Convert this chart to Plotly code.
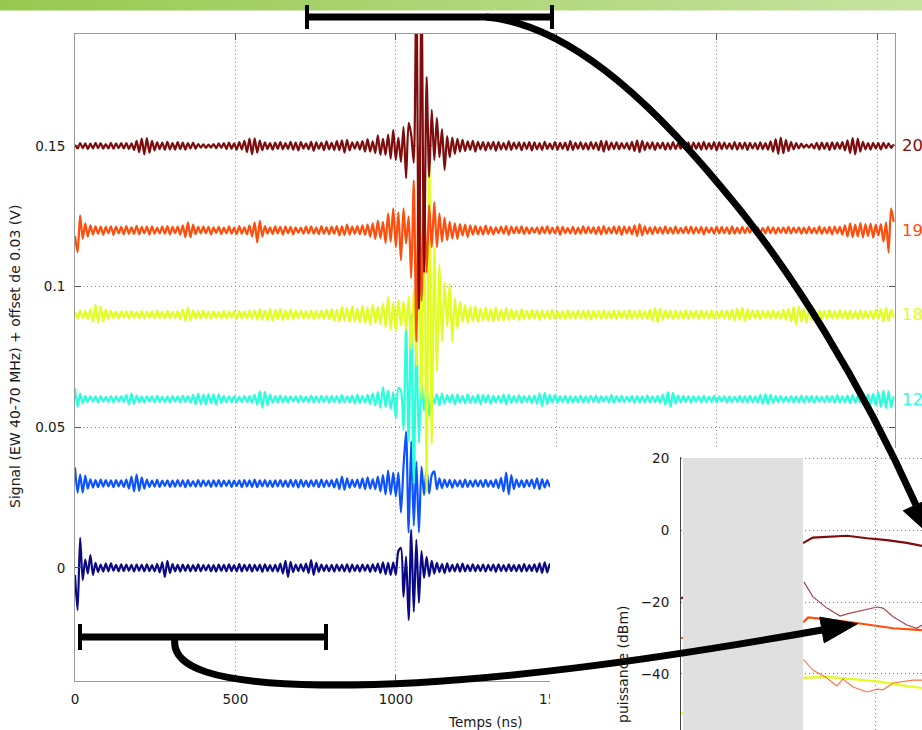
import plotly.graph_objects as go

W, H = 922, 730
FONT = "DejaVu Sans"
SAMPLE_NS = 8  # sampling interval of the recorded traces (ns)

# ---------------------------------------------------------------- traces
# vertical offsets (V) and colours, bottom trace first
offsets_v = [0.00, 0.03, 0.06, 0.09, 0.12, 0.15]
trace_colors = ["#0b0a86", "#0c52ff", "#2affda", "#e0ff1e", "#ff4d0c", "#7e0c0c"]
end_labels = ["", "", "12", "18", "19", "20"]

# filtered signals, units of 0.1 mV, one sample every SAMPLE_NS
sig_navy = [
    -25, -150, 107, -43, 30, -20, 46, -25, 18, -14, 12, -13, 15, -12, 16, -10, 11, -12, 13, -11,
    12, -10, 11, -13, 12, -10, 11, -12, 13, -11, 10, -12, 14, -16, 20, -32, 25, -18, 14, -12,
    11, -13, 12, -10, 11, -12, 10, -11, 13, -12, 10, -9, 11, -12, 10, -13, 12, -10, 11, -12,
    13, -11, 10, -12, 14, -12, 11, -10, 12, -13, 11, -10, 12, -14, 13, -11, 10, -12, 11, -13,
    15, -20, 25, -32, 22, -15, 12, -11, 13, -12, 15, -18, 28, -25, 18, -14, 12, -11, 10, -12,
    11, -13, 12, -10, 11, -12, 13, -14, 12, -11, 10, -13, 12, -10, 11, -14, 13, -12, 15, -18,
    20, -22, 18, -25, 20, -25, 60, 71, -103, 40, -185, 135, -156, 100, -124, 60, -36, 39, -30, 25,
    -20, 18, -15, 14, -18, 16, -13, 11, -12, 14, -13, 15, -12, 10, -11, 13, -12, 10, -11, 12,
    -13, 11, -10, 12, -14, 13, -11, 10, -12, 13, -11, 10, -12, 11, -13, 14, -12, 10, -11, 13,
    -14, 16, -18, 20, -16, 14, -12, 11, -13, 12, -10, 11, -12, 13, -11, 10, -12, 11, -10, 12,
]
sig_blue = [
    57, -32, 32, -32, 28, -18, 15, -14, 12, -13, 14, -11, 12, -10, 11, -13, 12, -10, 11, -12,
    14, -18, 25, -28, 32, -26, 22, -18, 14, -12, 10, -11, 13, -12, 10, -9, 11, -12, 10, -11,
    12, -10, 11, -13, 12, -10, 9, -11, 12, -10, 11, -9, 10, -12, 11, -10, 12, -11, 10, -9,
    11, -12, 10, -9, 11, -13, 12, -10, 11, -12, 14, -13, 11, -10, 12, -11, 10, -12, 11, -10,
    12, -11, 10, -12, 13, -11, 12, -14, 13, -11, 10, -12, 11, -10, 12, -13, 14, -12, 11, -10,
    12, -14, 16, -20, 25, -22, 18, -15, 13, -12, 14, -16, 18, -20, 22, -18, 15, -20, 25, -28,
    30, -39, 46, -39, 39, -46, 39, -103, 60, 185, -174, 150, -150, 78, -174, 60, -40, 50, -35, 30,
    43, -20, 18, -16, 14, -12, 13, -15, 12, -10, 11, -13, 14, -12, 10, -11, 12, -10, 11, -12,
    13, -11, 10, -12, 14, -16, 20, -28, 39, -39, 30, -20, 15, -12, 11, -13, 12, -10, 14, -16,
    18, -20, 16, -14, 12, -10, 11, -12, 10, -11, 12, -10, 11, -13, 12, -10, 11, -9, 10, -11,
]
sig_cyan = [
    39, -28, 20, -15, 12, -10, 11, -9, 10, -12, 11, -9, 8, -10, 11, -12, 10, -9, 11, -10,
    14, -18, 20, -17, 13, -11, 10, -12, 11, -9, 10, -11, 12, -10, 9, -11, 10, -12, 11, -9,
    10, -11, 12, -10, 11, -13, 15, -18, 20, -17, 16, -19, 18, -15, 17, -20, 18, -14, 12, -11,
    10, -12, 11, -10, 9, -11, 12, -10, 11, -13, 15, -20, 28, -30, 26, -22, 16, -13, 11, -12,
    13, -11, 10, -12, 11, -9, 10, -11, 12, -10, 9, -11, 13, -12, 10, -11, 12, -10, 11, -13,
    12, -10, 11, -13, 14, -12, 10, -11, 13, -15, 16, -14, 12, -13, 15, -17, 20, -22, 25, -30,
    43, -28, 30, -35, 25, -68, 40, 30, -110, 263, -150, 300, -300, 200, -156, 60, -40, 50, -60, 20,
    -15, 18, -22, 20, -16, 14, -12, 15, -18, 16, -13, 12, -15, 17, -14, 11, -13, 16, -18, 15,
    -12, 14, -16, 13, -11, 12, -14, 16, -18, 15, -13, 11, -12, 14, -13, 11, -10, 12, -14, 13,
    -16, 20, -25, 22, -18, 15, -12, 14, -13, 11, -10, 12, -13, 11, -12, 10, -11, 13, -12, 10,
    -11, 12, -10, 13, -12, 11, -9, 10, -12, 14, -13, 11, -10, 12, -11, 9, -10, 12, -13, 11,
    -12, 10, -11, 13, -12, 10, -11, 12, -14, 16, -20, 25, -28, 22, -16, 13, -11, 12, -10, 11,
    -12, 11, -9, 10, -11, 12, -10, 9, -11, 13, -12, 10, -9, 11, -12, 10, -11, 9, -10, 12,
    -11, 10, -12, 13, -11, 10, -12, 14, -16, 18, -17, 15, -13, 11, -10, 12, -11, 9, -10, 11,
    -12, 10, -11, 13, -12, 11, -10, 12, -13, 11, -10, 9, -11, 12, -10, 11, -13, 14, -12, 10,
    -11, 13, -15, 14, -12, 11, -13, 15, -14, 16, -18, 20, -22, 25, -28, 30, -32, 28, -30, 10,
]
sig_yellow = [
    10, -14, 15, -12, 13, -16, 20, -25, 36, -29, 30, -24, 18, -15, 14, -12, 11, -13, 12, -10,
    12, -14, 13, -11, 10, -12, 14, -13, 11, -10, 12, -14, 15, -12, 11, -13, 14, -12, 10, -11,
    13, -15, 18, -22, 25, -20, 16, -14, 12, -13, 15, -12, 11, -14, 13, -11, 10, -12, 14, -13,
    12, -11, 13, -15, 14, -12, 11, -13, 15, -14, 16, -18, 20, -17, 15, -19, 20, -22, 18, -16,
    20, -18, 15, -17, 19, -16, 14, -12, 15, -13, 12, -14, 16, -15, 13, -12, 14, -16, 18, -15,
    20, -22, 18, -25, 28, -20, 24, -26, 30, -24, 22, -28, 32, -30, 26, -35, 36, -30, 28, -33,
    40, -45, 64, -53, 45, -60, 52, -40, 48, -55, 64, -124, 90, -180, 200, -300, 500, -630, 611, -460,
    240, -200, 180, -96, 114, -43, 110, -96, 60, -50, 46, -25, 35, -30, 28, -24, 30, -26, 22, -20,
    25, -22, 20, -24, 26, -20, 18, -22, 24, -18, 20, -17, 15, -18, 20, -16, 14, -15, 17, -14,
    16, -18, 15, -13, 14, -16, 18, -15, 13, -14, 12, -15, 16, -13, 12, -14, 15, -12, 13, -14,
    15, -17, 14, -12, 13, -15, 16, -14, 12, -13, 15, -16, 14, -12, 13, -15, 17, -14, 12, -13,
    16, -14, 13, -15, 18, -20, 24, -26, 22, -18, 15, -13, 14, -16, 15, -13, 12, -14, 16, -15,
    13, -12, 14, -16, 15, -13, 12, -14, 16, -15, 13, -12, 14, -13, 15, -16, 18, -20, 22, -18,
    25, -24, 20, -16, 14, -13, 15, -16, 14, -12, 13, -15, 16, -14, 12, -15, 17, -18, 20, -24,
    28, -36, 30, -25, 22, -28, 24, -20, 18, -16, 15, -14, 13, -15, 16, -13, 12, -14, 15, -13,
    14, -16, 15, -13, 12, -15, 16, -14, 13, -12, 14, -16, 18, -15, 20, -24, 25, -22, 18, -10,
]
sig_orange = [
    -20, -78, 53, -30, 25, -22, 18, -15, 14, -12, 13, -15, 12, -10, 14, -16, 13, -11, 12, -14,
    15, -12, 11, -13, 16, -14, 12, -10, 13, -15, 14, -12, 10, -11, 13, -12, 15, -14, 12, -10,
    13, -15, 18, -24, 28, -25, 20, -14, 12, -11, 13, -10, 12, -14, 11, -9, 12, -13, 10, -11,
    14, -12, 10, -13, 15, -12, 11, -14, 18, -22, 28, -43, 34, -22, 15, -12, 11, -13, 14, -11,
    12, -15, 13, -10, 12, -14, 11, -9, 10, -12, 13, -11, 14, -12, 10, -13, 15, -12, 11, -14,
    13, -12, 15, -18, 14, -16, 20, -15, 13, -12, 15, -14, 18, -16, 20, -22, 25, -30, 35, -28,
    30, -45, 60, -40, 78, -60, 64, -107, 78, -46, 50, -170, 178, -395, 300, -250, 120, -150, 90, -60,
    100, -60, 60, -40, 45, -35, 30, -28, 25, -30, 22, -18, 20, -24, 18, -15, 16, -14, 12, -15,
    17, -13, 12, -14, 11, -10, 13, -12, 15, -16, 13, -11, 12, -10, 14, -13, 11, -12, 10, -9,
    11, -13, 12, -10, 14, -12, 10, -11, 13, -15, 12, -10, 9, -11, 12, -13, 10, -12, 14, -11,
    12, -10, 11, -13, 12, -14, 15, -12, 10, -11, 13, -12, 14, -16, 13, -11, 12, -14, 18, -20,
    22, -18, 14, -12, 11, -13, 12, -10, 11, -12, 14, -11, 10, -12, 13, -11, 9, -10, 12, -11,
    13, -12, 11, -10, 12, -14, 11, -9, 10, -12, 13, -11, 12, -10, 11, -13, 14, -12, 10, -11,
    12, -10, 11, -9, 10, -12, 11, -10, 9, -11, 12, -10, 11, -12, 10, -9, 11, -10, 12, -11,
    10, -9, 11, -12, 10, -11, 12, -10, 9, -11, 13, -12, 10, -11, 12, -14, 13, -11, 12, -15,
    18, -22, 25, -24, 20, -22, 26, -25, 22, -20, 24, -26, 20, -18, 22, -40, 28, -78, 78, 30,
]
sig_darkred = [
    4, -9, 10, -8, 9, -11, 8, -9, 11, -8, 10, -10, 7, -9, 11, -10, 9, -8, 10, -9,
    10, -11, 9, -14, 18, -22, 26, -30, 28, -24, 18, -16, 13, -11, 12, -14, 15, -12, 10, -13,
    14, -11, 12, -13, 10, -9, 12, -10, 7, -6, 6, -7, 5, -6, 7, -8, 9, -7, 10, -11,
    12, -10, 9, -13, 14, -12, 18, -22, 26, -30, 27, -24, 19, -15, 13, -11, 10, -13, 12, -10,
    14, -12, 10, -11, 15, -13, 12, -16, 14, -10, 9, -12, 15, -17, 13, -10, 12, -15, 16, -12,
    11, -14, 17, -15, 20, -24, 22, -16, 13, -10, 15, -13, 17, -20, 24, -20, 16, -25, 38, -32,
    25, -32, 40, -45, 57, -50, 30, -57, 68, -114, 82, 40, -60, 600, -580, 600, -450, 245, -110, 128,
    -50, 100, -40, 60, -85, 35, -40, 30, -28, 25, -20, 22, -18, 16, -14, 18, -20, 15, -12, 14,
    -16, 13, -11, 15, -17, 14, -12, 10, -13, 16, -14, 12, -10, 13, -15, 12, -11, 14, -16, 13,
    -12, 10, -14, 15, -11, 9, -12, 14, -13, 11, -10, 12, -15, 17, -14, 11, -10, 13, -12, 10,
    -13, 14, -11, 12, -15, 18, -20, 17, -14, 12, -11, 13, -12, 10, -9, 11, -13, 15, -18, 20,
    -22, 18, -15, 12, -10, 13, -14, 11, -9, 12, -13, 10, -12, 14, -11, 9, -10, 12, -11, 13,
    -14, 12, -10, 11, -13, 15, -12, 10, -11, 14, -16, 13, -11, 12, -10, 9, -12, 14, -13, 11,
    -10, 12, -14, 11, -9, 10, -12, 13, -11, 10, -13, 16, -20, 24, -28, 30, -26, 22, -18, 14,
    -12, 10, -9, 8, -6, 5, -6, 7, -9, 11, -13, 12, -10, 11, -14, 13, -11, 12, -10, 14,
    -16, 20, -25, 28, -30, 26, -20, 15, -12, 10, -13, 11, -9, 10, -12, 11, -8, 9, -7, 6,
]
signals = [sig_navy, sig_blue, sig_cyan, sig_yellow, sig_orange, sig_darkred]

# ---------------------------------------------------------------- spectra (inset)
psd_f_darkred = [0, 31.5, 33.8, 37.4, 42.6, 47.7, 52.8, 57.9, 61.8]
psd_darkred = [-19, -3.5, -2.1, -1.9, -1.6, -2.3, -2.8, -3.6, -4.4]
psd_f_rose = [31.5, 33.8, 37.4, 40.8, 42.6, 45.1, 47.7, 50.3, 51.8, 54.4, 57.9, 60.5, 61.8]
psd_rose = [-14.4, -18.5, -21.7, -23.9, -23.3, -22.7, -22.2, -21.4, -21.7, -24.1, -26.4, -27.3, -26.4]
psd_f_orange = [0, 31.5, 32.6, 34.9, 39.0, 44.1, 49.2, 54.4, 61.8]
psd_orange = [-30, -25.5, -24.3, -24.5, -25.0, -25.7, -26.4, -27.3, -27.8]
psd_f_salmon = [0, 31.5, 33.8, 37.4, 40.0, 41.5, 44.1, 47.7, 50.3, 51.8, 54.4, 57.9, 59.5, 61.8]
psd_salmon = [-34, -36.1, -38.9, -41.1, -43.3, -41.4, -43.6, -45.0, -44.2, -44.4, -42.5, -41.9, -41.7, -41.7]
psd_f_yellow = [0, 31.5, 37.4, 44.1, 51.0, 56.2, 61.8]
psd_yellow = [-51, -41.1, -40.8, -41.4, -42.1, -43.1, -43.9]
excluded_band_mhz = [0.5, 31.3]


def px(x):
    return x / W


def py(y):
    return 1 - y / H


def pt(x, y):
    return f"{px(x):.5f},{py(y):.5f}"


fig = go.Figure()

# time-domain traces
for off, col, sig in zip(offsets_v, trace_colors, signals):
    fig.add_trace(go.Scatter(
        x=[i * SAMPLE_NS for i in range(len(sig))],
        y=[off + v * 1e-4 for v in sig],
        mode="lines", line=dict(color=col, width=2.2, shape="spline", smoothing=0.7),
        xaxis="x", yaxis="y", hoverinfo="skip", showlegend=False,
    ))

# empty subplot whose white background masks the lower right corner
fig.add_trace(go.Scatter(x=[None], y=[None], xaxis="x2", yaxis="y2",
                         showlegend=False, hoverinfo="skip"))

# spectra inset
inset = [
    (psd_f_yellow, psd_yellow, "#e0ff1e", 2.2),
    (psd_f_salmon, psd_salmon, "#ff7446", 1.1),
    (psd_f_orange, psd_orange, "#ff4d0c", 2.2),
    (psd_f_rose, psd_rose, "#a8464c", 1.2),
    (psd_f_darkred, psd_darkred, "#7e0c0c", 2.2),
]
for f, p, col, w in inset:
    fig.add_trace(go.Scatter(x=f, y=p, mode="lines", line=dict(color=col, width=w),
                             xaxis="x3", yaxis="y3", hoverinfo="skip", showlegend=False))

main_left, main_right, main_top, main_bottom = 75, 895, 34, 681
tick_font = dict(family=FONT, size=13.5, color="#1a1a1a")
grid_dots = "1px,3px"

fig.update_layout(
    width=W, height=H, margin=dict(l=0, r=0, t=0, b=0),
    paper_bgcolor="white", plot_bgcolor="white", showlegend=False,
    xaxis=dict(
        domain=[px(main_left), px(main_right)], range=[0, 2556], anchor="y",
        tickvals=[0, 500, 1000, 1500, 2000, 2500], tickfont=tick_font,
        showgrid=True, gridcolor="#8a8a8a", griddash=grid_dots, gridwidth=1, zeroline=False,
        showline=True, linecolor="#999999", linewidth=1, mirror="ticks",
        ticks="inside", ticklen=6, tickcolor="#555555", ticklabelstandoff=6,
        automargin=False,
    ),
    yaxis=dict(
        domain=[py(main_bottom), py(main_top)], range=[-0.0402, 0.1898], anchor="x",
        tickvals=[0, 0.05, 0.1, 0.15], ticktext=["0", "0.05", "0.1", "0.15"],
        tickfont=tick_font,
        showgrid=True, gridcolor="#8a8a8a", griddash=grid_dots, gridwidth=1, zeroline=False,
        showline=True, linecolor="#999999", linewidth=1, mirror="ticks",
        ticks="inside", ticklen=6, tickcolor="#555555", ticklabelstandoff=6,
        automargin=False,
    ),
    xaxis2=dict(domain=[px(550), 1], range=[0, 1], anchor="y2", visible=False),
    yaxis2=dict(domain=[0, py(448)], range=[0, 1], anchor="x2", visible=False),
    xaxis3=dict(
        domain=[px(681), 1], range=[0, 61.8], anchor="y3",
        tickvals=[0, 50], showticklabels=False, ticks="",
        showgrid=True, gridcolor="#777777", griddash=grid_dots, zeroline=False,
        showline=False, automargin=False,
    ),
    yaxis3=dict(
        domain=[0, py(457)], range=[-55.56, 20.28], anchor="x3",
        tickvals=[-40, -20, 0, 20], tickfont=tick_font, ticks="",
        showgrid=True, gridcolor="#777777", griddash=grid_dots, zeroline=False,
        showline=True, linecolor="#444444", linewidth=1, ticklabelstandoff=8,
        automargin=False,
    ),
)

annotations = [
    dict(text="Temps (ns)", x=px(485), y=py(722), xref="paper", yref="paper",
         xanchor="center", yanchor="middle", showarrow=False,
         font=dict(family=FONT, size=13.5, color="#1a1a1a")),
    dict(text="Signal (EW 40-70 MHz) + offset de 0.03 (V)", x=px(15), y=py(357),
         xref="paper", yref="paper", xanchor="center", yanchor="middle",
         textangle=-90, showarrow=False,
         font=dict(family=FONT, size=14, color="#1a1a1a")),
    dict(text="puissance (dBm)", x=px(623), y=py(664), xref="paper", yref="paper",
         xanchor="center", yanchor="middle",
         textangle=-90, showarrow=False, font=dict(family=FONT, size=14, color="#1a1a1a")),
]
for off, col, lab in zip(offsets_v, trace_colors, end_labels):
    if lab:
        annotations.append(dict(text=lab, x=px(900), y=off, xref="paper", yref="y",
                                xanchor="left", yanchor="middle", showarrow=False,
                                font=dict(family=FONT, size=16.5, color=col)))
fig.update_layout(annotations=annotations)

shapes = []

# green header band, drawn as a horizontal colour ramp
n_steps = 60
c0, c1 = (151, 201, 80), (198, 227, 160)
for k in range(n_steps):
    a = k / (n_steps - 1)
    col = "rgb({},{},{})".format(*[round(c0[j] + (c1[j] - c0[j]) * a) for j in range(3)])
    shapes.append(dict(type="rect", xref="paper", yref="paper",
                       x0=px(k * W / n_steps), x1=px((k + 1) * W / n_steps + 1),
                       y0=py(10.5), y1=1, line=dict(width=0), fillcolor=col, layer="above"))

# excluded frequency band in the inset
shapes.append(dict(type="rect", xref="x3", yref="y3",
                   x0=excluded_band_mhz[0], x1=excluded_band_mhz[1], y0=-60, y1=20,
                   line=dict(width=0), fillcolor="#e0e0e0", layer="above"))


def bracket(x0, x1, y, half):
    out = [dict(type="line", xref="paper", yref="paper", x0=px(x0), x1=px(x1),
                y0=py(y), y1=py(y), line=dict(color="black", width=7), layer="above")]
    for xe in (x0, x1):
        out.append(dict(type="line", xref="paper", yref="paper", x0=px(xe), x1=px(xe),
                        y0=py(y - half), y1=py(y + half),
                        line=dict(color="black", width=4), layer="above"))
    return out


shapes += bracket(307, 552, 17, 12)
shapes += bracket(80, 326, 637, 13)

# curved arrows linking the time windows to the spectra
curve_top = ("M " + pt(486, 17) + " C " + pt(565, 24) + " " + pt(645, 95) + " " + pt(722, 188)
             + " C " + pt(792, 270) + " " + pt(862, 385) + " " + pt(916, 505))
curve_bot = ("M " + pt(175, 638) + " C " + pt(170, 668) + " " + pt(215, 683) + " " + pt(320, 685)
             + " C " + pt(480, 687) + " " + pt(680, 655) + " " + pt(822, 630))
for pth in (curve_top, curve_bot):
    shapes.append(dict(type="path", path=pth, xref="paper", yref="paper",
                       line=dict(color="black", width=7), layer="above"))


def arrow_head(ex, ey, dx, dy, length, half):
    n = (dx * dx + dy * dy) ** 0.5
    ux, uy = dx / n, dy / n
    tip = (ex + ux * length, ey + uy * length)
    a = (ex + uy * half, ey - ux * half)
    b = (ex - uy * half, ey + ux * half)
    return dict(type="path", xref="paper", yref="paper",
                path="M " + pt(*tip) + " L " + pt(*a) + " L " + pt(*b) + " Z",
                fillcolor="black", line=dict(color="black", width=1), layer="above")


shapes.append(arrow_head(916, 505, 54, 120, 32, 14))
shapes.append(arrow_head(822, 630, 142, -25, 36, 13))

fig.update_layout(shapes=shapes)
fig.write_html("out.html")
